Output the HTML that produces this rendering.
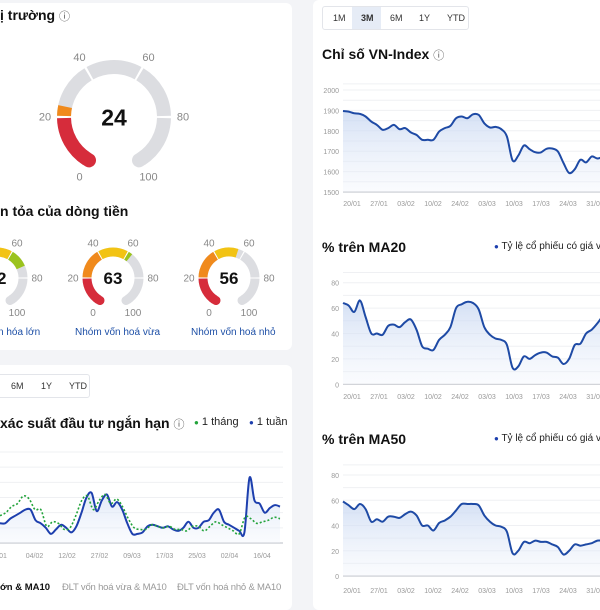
<!DOCTYPE html>
<html><head><meta charset="utf-8">
<style>
body{margin:0;width:600px;height:600px;overflow:hidden;background:#f3f4f7;font-family:"Liberation Sans",sans-serif;position:relative}
.card{position:absolute;background:#fff;border-radius:6px}
.t{position:absolute;white-space:nowrap}
svg{position:absolute;left:0;top:0}
</style></head><body>
<div class="card" style="left:-10px;top:3px;width:302px;height:347px"></div>
<div class="card" style="left:-10px;top:365px;width:302px;height:245px"></div>
<div class="card" style="left:313px;top:0;width:300px;height:610px"></div>

<div class="t" style="left:0;top:7px;font-size:14px;font-weight:bold;color:#111">ị trường <span style="font-weight:normal;font-size:11px;color:#555">ⓘ</span></div>
<div class="t" style="left:0;top:203px;font-size:14px;font-weight:bold;color:#111">n tỏa của dòng tiền</div>
<div class="t" style="left:-2px;top:327px;font-size:10px;color:#1d4fa6">n hóa lớn</div>
<div class="t" style="left:75px;top:327px;font-size:10px;color:#1d4fa6">Nhóm vốn hoá vừa</div>
<div class="t" style="left:191px;top:327px;font-size:10px;color:#1d4fa6">Nhóm vốn hoá nhỏ</div>

<div style="position:absolute;left:-10px;top:374px;width:98px;height:22px;border:1px solid #e3e5ea;border-radius:3px;font-size:9px;color:#333">
<span class="t" style="left:20px;top:6px">6M</span>
<span class="t" style="left:50px;top:6px">1Y</span>
<span class="t" style="left:78px;top:6px">YTD</span></div>
<div class="t" style="left:0;top:415px;font-size:14px;font-weight:bold;color:#111">xác suất đầu tư ngắn hạn <span style="font-weight:normal;font-size:11px;color:#555">ⓘ</span></div>
<div class="t" style="left:194px;top:416px;font-size:11px;color:#222"><span style="color:#22a33a;font-size:8px">●</span> 1 tháng</div>
<div class="t" style="left:249px;top:416px;font-size:11px;color:#222"><span style="color:#1d3fae;font-size:8px">●</span> 1 tuần</div>
<div class="t" style="left:0;top:582px;font-size:9.5px;font-weight:bold;color:#111">ớn &amp; MA10</div>
<div class="t" style="left:62px;top:582px;font-size:9.5px;color:#999;letter-spacing:-0.2px">ĐLT vốn hoá vừa &amp; MA10</div>
<div class="t" style="left:177px;top:582px;font-size:9.5px;color:#999;letter-spacing:-0.2px">ĐLT vốn hoá nhỏ &amp; MA10</div>

<div style="position:absolute;left:322px;top:6px;width:145px;height:22px;border:1px solid #e3e5ea;border-radius:3px;font-size:9px;color:#333">
<span style="position:absolute;left:29px;top:0;width:29px;height:22px;background:#e6ecf6"></span>
<span class="t" style="left:10px;top:6px">1M</span>
<span class="t" style="left:38px;top:6px;font-weight:bold">3M</span>
<span class="t" style="left:67px;top:6px">6M</span>
<span class="t" style="left:96px;top:6px">1Y</span>
<span class="t" style="left:124px;top:6px">YTD</span></div>
<div class="t" style="left:322px;top:46px;font-size:14px;font-weight:bold;color:#111">Chỉ số VN-Index <span style="font-weight:normal;font-size:11px;color:#555">ⓘ</span></div>
<div class="t" style="left:322px;top:239px;font-size:14px;font-weight:bold;color:#111">% trên MA20</div>
<div class="t" style="left:494px;top:241px;font-size:10px;color:#222"><span style="color:#1d3fae;font-size:8px">●</span> Tỷ lệ cổ phiếu có giá v</div>
<div class="t" style="left:322px;top:431px;font-size:14px;font-weight:bold;color:#111">% trên MA50</div>
<div class="t" style="left:494px;top:433px;font-size:10px;color:#222"><span style="color:#1d3fae;font-size:8px">●</span> Tỷ lệ cổ phiếu có giá v</div>

<svg id="s" width="600" height="600">
<defs><linearGradient id="gf" x1="0" y1="0" x2="0" y2="1"><stop offset="0" stop-color="#c9d8f2" stop-opacity="0.8"/><stop offset="1" stop-color="#eef3fb" stop-opacity="0.3"/></linearGradient></defs>
</svg>
<script>
const bigGaugeValue = 24;
const smallGaugeValues = [72, 63, 56];
const vnDates = ["20/01","27/01","03/02","10/02","24/02","03/03","10/03","17/03","24/03","31/03"];
const vnTicks = [1500,1600,1700,1800,1900,2000];
const vnValues = [1897,1894,1886,1883,1870,1845,1829,1805,1813,1829,1808,1813,1792,1780,1756,1756,1756,1796,1813,1824,1862,1870,1862,1881,1878,1837,1816,1819,1808,1772,1655,1678,1728,1710,1695,1694,1712,1713,1699,1642,1593,1612,1658,1645,1674,1664,1674,1691,1700,1710];
const maTicks = [0,20,40,60,80];
const ma20Values = [64,62,57,66,53,40,40,39,46,47,45,49,51,43,30,28,27,35,39,45,60,63,65,64,59,45,39,36,35,31,13,14,22,20,23,25,25,22,21,16,20,31,32,40,43,48,54,58,60,62];
const ma50Values = [59,56,53,57,53,43,45,43,47,47,46,49,51,48,40,40,36,42,44,47,52,57,57,57,56,48,43,40,39,35,18,20,27,26,28,27,27,25,23,17,20,25,24,25,26,28,28,29,30,31];
const probDates = ["/01","04/02","12/02","27/02","09/03","17/03","25/03","02/04","16/04"];
const weekValues = [13,13,16,18,20,22,22,15,13,10,6,9,12,10,7,11,20,30,33,21,28,32,24,27,22,13,6,6,7,11,12,11,10,11,9,8,10,14,10,10,14,15,20,22,14,12,10,8,7,43,28,26,20,23,25,24];
const monthValues = [18,20,24,26,31,29,22,22,11,14,13,9,10,18,28,31,22,28,32,26,29,24,16,10,9,9,12,11,10,11,9,9,8,11,11,8,11,14,12,10,8,6,17,16,13,14,15,17,16];

const NS="http://www.w3.org/2000/svg", S=document.getElementById('s');
function mk(tag,at,name){const e=document.createElementNS(NS,tag);for(const k in at)e.setAttribute(k,at[k]);


S.appendChild(e);return e;}
function txt(x,y,s,sz,col,anchor,name,bold){const e=mk('text',{x:x,y:y,'font-size':sz,fill:col,'text-anchor':anchor||'middle','font-family':'Liberation Sans, sans-serif','font-weight':bold?'bold':'normal'},name);e.textContent=s;return e;}
function pt(cx,cy,r,v){const a=(-150+v*3)*Math.PI/180;return [cx+r*Math.sin(a),cy-r*Math.cos(a)];}
function arc(cx,cy,r,v0,v1,w,col,cap,name){const p0=pt(cx,cy,r,v0),p1=pt(cx,cy,r,v1);const large=(v1-v0)*3>180?1:0;
return mk('path',{d:`M${p0[0]},${p0[1]} A${r},${r} 0 ${large} 1 ${p1[0]},${p1[1]}`,fill:'none',stroke:col,'stroke-width':w,'stroke-linecap':cap},name);}
const segCols=['#d62c3b','#f08a1c','#f2c314','#9bc31e','#4caf50'];
function gauge(cx,cy,r,w,val,lr,fs,vfs,name){
  arc(cx,cy,r,0,3,w,'#dcdde1','round',name+'-cap-start');
  arc(cx,cy,r,97,100,w,'#dcdde1','round',name+'-cap-end');
  for(let i=0;i<5;i++)arc(cx,cy,r,i*20+(i?0.4:1),(i+1)*20-(i<4?0.4:1),w,'#dcdde1','butt',name+'-track-'+i);
  for(let i=0;i<5;i++){const a=i*20,b=Math.min(val,(i+1)*20);if(b<=a)break;
    if(i==0)arc(cx,cy,r,0,3,w,segCols[0],'round',name+'-fill-cap');
    arc(cx,cy,r,a+(i?0.4:1),b-(b==(i+1)*20?0.4:0),w,segCols[i],'butt',name+'-fill-'+i);}
  [0,20,40,60,80,100].forEach(v=>{const p=pt(cx,cy,lr,v);txt(p[0],p[1]+fs/3,String(v),fs,'#888','middle',name+'-label-'+v);});
  txt(cx,cy+vfs*0.36,String(val),vfs,'#111','middle',name+'-value',true);
}
gauge(114,117,50,14,bigGaugeValue,69,11,23,'market-gauge');
[-3,113,229].forEach((cx,i)=>gauge(cx,278,26,9,smallGaugeValues[i],40,10,17,'flow-gauge-'+i));

function smooth(pts){let d='M'+pts[0][0].toFixed(1)+','+pts[0][1].toFixed(1);
  for(let i=0;i<pts.length-1;i++){const p0=pts[i-1]||pts[i],p1=pts[i],p2=pts[i+1],p3=pts[i+2]||p2;
    const c1=[p1[0]+(p2[0]-p0[0])/6,p1[1]+(p2[1]-p0[1])/6],c2=[p2[0]-(p3[0]-p1[0])/6,p2[1]-(p3[1]-p1[1])/6];
    d+=` C${c1[0].toFixed(1)},${c1[1].toFixed(1)} ${c2[0].toFixed(1)},${c2[1].toFixed(1)} ${p2[0].toFixed(1)},${p2[1].toFixed(1)}`;}
  return d;}
function lineChart(o){
  const {x0,x1,yTop,yBot,min,max,ticks,grid,vals,dates,labelY,name,gx1}=o;
  const ys=v=>yBot-(v-min)/(max-min)*(yBot-yTop);
  grid.forEach(g=>mk('line',{x1:x0,x2:gx1,y1:ys(g),y2:ys(g),stroke:'#eff0f3','stroke-width':1},name+'-grid'));
  mk('line',{x1:x0,x2:gx1,y1:yBot,y2:yBot,stroke:'#c8cad0','stroke-width':1.2},name+'-x-axis');
  if(ticks)ticks.forEach(t=>txt(x0-4,ys(t)+3,String(t),7,'#999','end',name+'-y-tick'));
  dates.forEach((d,i)=>txt(o.dx0+i*o.dStep,labelY,d,7,'#999','middle',name+'-x-tick'));
  o.series.forEach(s=>{
    const step=(x1-x0)/(s.v.length-1);
    const pts=s.v.map((v,i)=>[x0+i*step,ys(v)]);
    const d=smooth(pts);
    if(s.fill)mk('path',{d:d+` L${x1},${yBot} L${x0},${yBot} Z`,fill:'url(#gf)'},name+'-area');
    mk('path',{d:d,fill:'none',stroke:s.col,'stroke-width':s.w||2,'stroke-linejoin':'round','stroke-dasharray':s.dash||'none'},name+'-'+s.n);
  });
}
lineChart({x0:343,x1:620,gx1:620,yTop:90,yBot:192,min:1500,max:2000,ticks:vnTicks,grid:[1550,1600,1650,1700,1750,1800,1850,1900,1950,2000,2030],
 dates:vnDates,dx0:352,dStep:27,labelY:206,name:'vnindex',series:[{v:vnValues,col:'#1e4aa5',fill:true,n:'line'}]});
lineChart({x0:343,x1:620,gx1:620,yTop:282.7,yBot:384.3,min:0,max:80,ticks:maTicks,grid:[10,20,30,40,50,60,70,80,88],
 dates:vnDates,dx0:352,dStep:27,labelY:399,name:'ma20',series:[{v:ma20Values,col:'#1e4aa5',fill:true,n:'line'}]});
lineChart({x0:343,x1:620,gx1:620,yTop:475,yBot:576,min:0,max:80,ticks:maTicks,grid:[10,20,30,40,50,60,70,80,88],
 dates:vnDates,dx0:352,dStep:27,labelY:593,name:'ma50',series:[{v:ma50Values,col:'#1e4aa5',fill:true,n:'line'}]});
lineChart({x0:0,x1:280,gx1:283,yTop:452,yBot:543,min:0,max:60,ticks:null,grid:[10,20,30,40,50,60],
 dates:probDates,dx0:2,dStep:32.5,labelY:558,name:'probability',
 series:[{v:weekValues,col:'#1d3fae',fill:true,n:'week-line'},{v:monthValues,col:'#22a33a',w:1.6,dash:'2 2',n:'month-line'}]});
</script>
</body></html>
